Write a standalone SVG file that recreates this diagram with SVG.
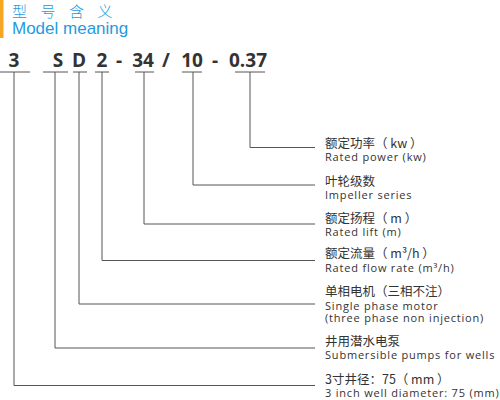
<svg xmlns="http://www.w3.org/2000/svg" width="500" height="400" viewBox="0 0 500 400">
<style>
.code{font-family:"Open Sans","DejaVu Sans",sans-serif;font-weight:bold;font-size:19px;fill:#333;text-anchor:middle}
.zh{font-family:"Noto Sans CJK SC","Noto Sans",sans-serif;font-size:12.5px;fill:#333}
.en{font-family:"Open Sans","Liberation Sans",sans-serif;font-size:11px;letter-spacing:0.8px;fill:#333}
.ln{fill:none;stroke:#555;stroke-width:1}
</style>
<rect width="500" height="400" fill="#fff"/>
<rect x="0" y="0" width="3.5" height="38" fill="#f5a623"/>
<text x="12" y="17" font-family="Noto Sans CJK SC,sans-serif" font-size="15" font-weight="300" letter-spacing="13.5" fill="#1e9be0">型号含义</text>
<text x="12" y="34" font-family="Liberation Sans,Arial,sans-serif" font-size="17" fill="#1e9be0">Model meaning</text>
<g id="code">
<text class="code" x="14" y="67">3</text>
<text class="code" x="58" y="67">S</text>
<text class="code" x="79" y="67">D</text>
<text class="code" x="102" y="67">2</text>
<text class="code" x="119" y="67">-</text>
<text class="code" x="143" y="67">34</text>
<text class="code" x="166" y="67">/</text>
<text class="code" x="192" y="67">10</text>
<text class="code" x="215" y="67">-</text>
<text class="code" x="248" y="67">0.37</text>
</g>
<g id="connectors" class="ln">
<path d="M0 72H30M14 72V385.5H315"/>
<path d="M43 72H68M55 72V348H315"/>
<path d="M73 72H87M79 72V304H315"/>
<path d="M95 72H109M102 72V260.5H315"/>
<path d="M135 72H154M144 72V224H315"/>
<path d="M182 72H202M193 72V185H315"/>
<path d="M235 72H265M250 72V147.5H315"/>
</g>
<g id="n1"><text class="zh" x="325" y="148">额定功率（ kw ）</text><text class="en" x="325" y="161">Rated power (kw)</text></g>
<g id="n2"><text class="zh" x="325" y="186">叶轮级数</text><text class="en" x="325" y="199">Impeller series</text></g>
<g id="n3"><text class="zh" x="325" y="223">额定扬程（ m ）</text><text class="en" x="325" y="236">Rated lift (m)</text></g>
<g id="n4"><text class="zh" x="325" y="258">额定流量（ m³/h ）</text><text class="en" x="325" y="272">Rated flow rate (m³/h)</text></g>
<g id="n5"><text class="zh" x="325" y="296">单相电机（三相不注）</text><text class="en" x="325" y="310">Single phase motor</text><text class="en" x="325" y="322">(three phase non injection)</text></g>
<g id="n6"><text class="zh" x="325" y="346">井用潜水电泵</text><text class="en" x="325" y="359">Submersible pumps for wells</text></g>
<g id="n7"><text class="zh" x="325" y="384">3寸井径：75（ mm ）</text><text class="en" x="325" y="397">3 inch well diameter: 75 (mm)</text></g>
</svg>
